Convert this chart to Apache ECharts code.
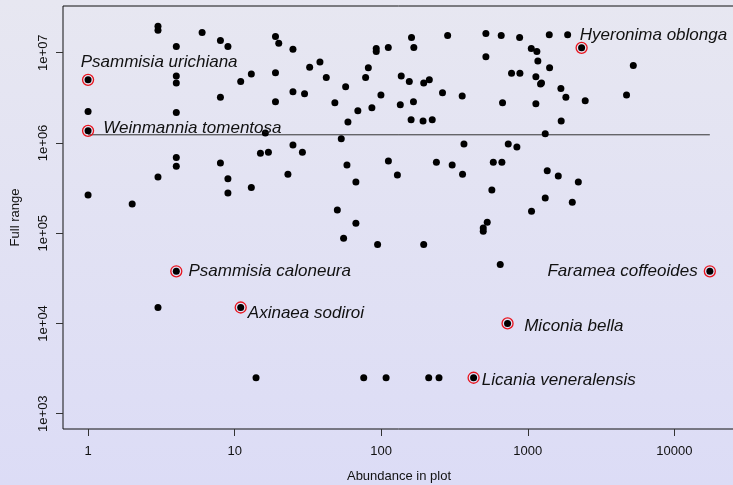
<!DOCTYPE html>
<html>
<head>
<meta charset="utf-8">
<script src="https://cdn.jsdelivr.net/npm/echarts@6/dist/echarts.min.js"></script>
<style>
  html, body { margin: 0; padding: 0; }
  #chart {
    width: 733px; height: 485px;
    background: linear-gradient(to bottom, #e7e7f1, #dcdcf6);
  }
</style>
</head>
<body>
<div id="chart"></div>
<script>
// abundance in plot / full range, one entry per species
var abundance = [
  3, 3, 6, 4, 8, 9, 19, 20, 25, 32.5,
  1, 4, 4, 11, 13, 19, 8, 19, 25, 30,
  1, 4, 1, 16.2, 15, 17, 25, 29, 4, 38.2,
  42.2, 48.3, 57.2, 59.3, 69.3, 78.3, 81.7, 86.4, 92.5, 92.5,
  111.8, 99.6, 137, 155.5, 135, 166, 161, 167, 160, 193,
  223, 195, 213, 262, 284, 357, 518, 518, 53.4, 367,
  112, 659, 880, 1402, 1871, 2330, 1057, 1154, 1172, 1409,
  5250, 775, 884, 1136, 1222, 1241, 1683, 1820, 2466, 4720,
  673, 1136, 1691, 1316, 736, 843, 1, 2, 3, 4,
  8, 9, 9, 13, 23.1, 4, 58.4, 67.2, 129, 238,
  305, 359, 50.2, 67.2, 55.4, 94.5, 195, 529, 497, 497,
  582, 666, 1358, 1615, 2213, 569, 1316, 2013, 1061, 649,
  17470, 3, 11, 728, 14, 76, 108, 211, 248, 427
]
var fullRange = [
  1.96e7, 1.77e7, 1.67e7, 1.17e7, 1.36e7, 1.17e7, 1.51e7, 1.27e7, 1.09e7, 6.9e6,
  5.0e6, 5.5e6, 4.6e6, 4.8e6, 5.8e6, 6.0e6, 3.2e6, 2.86e6, 3.7e6, 3.5e6,
  2.23e6, 2.17e6, 1.36e6, 1.29e6, 7.7e5, 7.9e5, 9.5e5, 7.9e5, 6.9e5, 7.9e6,
  5.3e6, 2.78e6, 4.2e6, 1.71e6, 2.27e6, 5.3e6, 6.8e6, 2.45e6, 1.11e7, 1.03e7,
  1.14e7, 3.4e6, 5.5e6, 4.8e6, 2.64e6, 2.86e6, 1.47e7, 1.14e7, 1.8e6, 1.75e6,
  1.8e6, 4.6e6, 5.0e6, 3.6e6, 1.55e7, 3.3e6, 1.63e7, 9.0e6, 1.11e6, 9.7e5,
  6.3e5, 1.55e7, 1.47e7, 1.58e7, 1.58e7, 1.13e7, 1.11e7, 1.03e7, 8.1e6, 6.8e6,
  7.2e6, 5.9e6, 5.9e6, 5.4e6, 4.5e6, 4.6e6, 4.0e6, 3.2e6, 2.93e6, 3.4e6,
  2.78e6, 2.71e6, 1.75e6, 1.26e6, 9.7e5, 9.0e5, 2.64e5, 2.1e5, 4.2e5, 5.5e5,
  6.0e5, 4.0e5, 2.78e5, 3.2e5, 4.5e5, 3.78e4, 5.7e5, 3.7e5, 4.4e5, 6.1e5,
  5.7e5, 4.5e5, 1.8e5, 1.29e5, 8.8e4, 7.5e4, 7.5e4, 1.32e5, 1.14e5, 1.05e5,
  6.1e5, 6.1e5, 4.9e5, 4.3e5, 3.7e5, 3.0e5, 2.45e5, 2.2e5, 1.75e5, 4.5e4,
  3.78e4, 1.5e4, 1.5e4, 1.0e4, 2500, 2500, 2500, 2500, 2500, 2500
]

// named species
var hlNames = ['Psammisia urichiana', 'Weinmannia tomentosa', 'Hyeronima oblonga',
  'Psammisia caloneura', 'Faramea coffeoides', 'Axinaea sodiroi', 'Miconia bella',
  'Licania veneralensis']
var hlAbundance = [1, 1, 2330, 4, 17470, 11, 728, 427]
var hlRange = [5.0e6, 1.36e6, 1.13e7, 3.78e4, 3.78e4, 1.5e4, 1.0e4, 2500]

// reference line
var refRange = 1.23e6

var xTicks = [1, 10, 100, 1000, 10000]
var xTickLabels = ['1', '10', '100', '1000', '10000']
var yTicks = [1e3, 1e4, 1e5, 1e6, 1e7]
var yTickLabels = ['1e+03', '1e+04', '1e+05', '1e+06', '1e+07']

// label placement for the named species
var labelPos = {
  'Psammisia urichiana': { position: 'right', offset: [-13.5, -17.5] },
  'Weinmannia tomentosa': { position: 'right', offset: [9, -3] },
  'Hyeronima oblonga': { position: 'right', offset: [-8, -12.5] },
  'Psammisia caloneura': { position: 'right', offset: [6, 0] },
  'Faramea coffeoides': { position: 'left', offset: [-6, 0] },
  'Axinaea sodiroi': { position: 'right', offset: [1, 5.5] },
  'Miconia bella': { position: 'right', offset: [10.5, 2.5] },
  'Licania veneralensis': { position: 'right', offset: [2, 2.5] }
}

var lg = Math.log10
var font = 'Liberation Sans, Arial, sans-serif'

var points = abundance.map(function (a, i) { return [lg(a), lg(fullRange[i])] })
var rings = hlNames.map(function (n, i) {
  var p = labelPos[n]
  return {
    name: n,
    value: [lg(hlAbundance[i]), lg(hlRange[i])],
    label: { show: true, position: p.position, distance: 0, offset: p.offset }
  }
})
var xMin = Math.min.apply(null, abundance)
var xMax = Math.max.apply(null, abundance)

function tickLabel(ticks, labels) {
  return function (v) {
    for (var i = 0; i < ticks.length; i++) {
      if (Math.abs(lg(ticks[i]) - v) < 1e-6) return labels[i]
    }
    return ''
  }
}

var myChart = echarts.init(document.getElementById('chart'), null, { renderer: 'canvas' })
var option = {
  animation: false,
  backgroundColor: 'transparent',
  textStyle: { fontFamily: font },
  grid: {
    left: 63, top: 6, right: -2, bottom: 56,
    outerBoundsMode: 'none',
    containLabel: false,
    show: true, borderColor: '#111', borderWidth: 1,
    backgroundColor: 'transparent'
  },
  xAxis: {
    type: 'value',
    min: -0.171, max: 4.414,
    name: 'Abundance in plot',
    nameLocation: 'middle',
    nameGap: 41,
    nameTextStyle: { color: '#111', fontSize: 13, fontFamily: font },
    axisLine: { show: false, onZero: false },
    axisTick: { show: true, length: 7, lineStyle: { color: '#333' }, customValues: xTicks.map(lg) },
    axisLabel: {
      color: '#111', fontSize: 13, fontFamily: font, margin: 16,
      customValues: xTicks.map(lg),
      formatter: tickLabel(xTicks, xTickLabels)
    },
    splitLine: { show: false }
  },
  yAxis: {
    type: 'value',
    min: 2.83, max: 7.517,
    name: 'Full range',
    nameLocation: 'middle',
    nameGap: 41,
    nameTextStyle: { color: '#111', fontSize: 13, fontFamily: font },
    axisLine: { show: false, onZero: false },
    axisTick: { show: true, length: 7, lineStyle: { color: '#333' }, customValues: yTicks.map(lg) },
    axisLabel: {
      color: '#111', fontSize: 13, fontFamily: font, margin: 13, rotate: 90,
      customValues: yTicks.map(lg),
      formatter: tickLabel(yTicks, yTickLabels)
    },
    splitLine: { show: false }
  },
  series: [
    {
      type: 'line',
      data: [[lg(xMin), lg(refRange)], [lg(xMax), lg(refRange)]],
      symbol: 'none',
      lineStyle: { color: '#333', width: 1 },
      silent: true,
      z: 1
    },
    {
      type: 'scatter',
      data: points,
      symbolSize: 7,
      itemStyle: { color: '#000', opacity: 1 },
      z: 2
    },
    {
      type: 'scatter',
      data: rings,
      symbolSize: 11,
      itemStyle: { color: 'rgba(0,0,0,0)', borderColor: '#e8141e', borderWidth: 1.3, opacity: 1 },
      label: {
        formatter: '{b}',
        color: '#111',
        fontSize: 17,
        fontStyle: 'italic',
        fontFamily: font
      },
      z: 3
    }
  ]
}
myChart.setOption(option)
</script>
</body>
</html>
